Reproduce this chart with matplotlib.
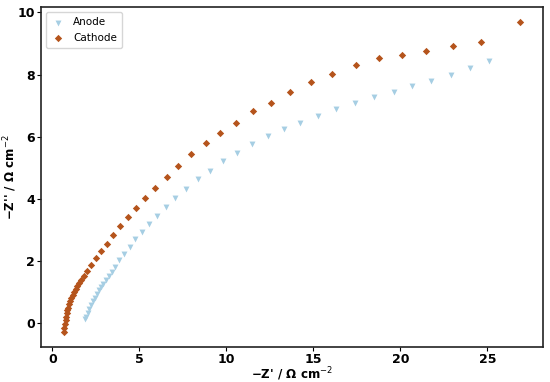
import matplotlib
matplotlib.use("Agg")
import matplotlib.pyplot as plt

anode_x = [1.88, 1.95, 2.02, 2.12, 2.22, 2.31, 2.43, 2.54, 2.68, 2.79, 2.92, 3.08, 3.25, 3.40,
           3.57, 3.82, 4.11, 4.43, 4.76, 5.14, 5.56, 6.02, 6.52, 7.07, 7.70, 8.35, 9.06, 9.82,
           10.61, 11.47, 12.37, 13.30, 14.24, 15.24, 16.30, 17.39, 18.48, 19.61, 20.70, 21.79,
           22.90, 24.00, 25.11]
anode_y = [0.12, 0.21, 0.34, 0.46, 0.58, 0.70, 0.80, 0.93, 1.05, 1.15, 1.27, 1.39, 1.52, 1.64,
           1.82, 2.03, 2.23, 2.46, 2.72, 2.93, 3.18, 3.45, 3.74, 4.03, 4.33, 4.63, 4.91, 5.21,
           5.49, 5.76, 6.03, 6.25, 6.45, 6.68, 6.90, 7.09, 7.28, 7.45, 7.62, 7.80,
           7.97, 8.20, 8.43]

cathode_x = [0.65, 0.69, 0.73, 0.75, 0.79, 0.82, 0.86, 0.92, 0.96, 1.01, 1.09, 1.16, 1.24, 1.34,
             1.43, 1.53, 1.65, 1.82, 2.01, 2.24, 2.51, 2.79, 3.14, 3.50, 3.90, 4.36, 4.82, 5.33,
             5.91, 6.59, 7.22, 7.97, 8.83, 9.63, 10.55, 11.53, 12.56, 13.65, 14.85, 16.06,
             17.43, 18.75, 20.07, 21.50, 23.05, 24.66, 26.90]
cathode_y = [-0.28, -0.15, -0.02, 0.10, 0.20, 0.31, 0.41, 0.50, 0.60, 0.70, 0.80, 0.90, 0.99, 1.09,
             1.19, 1.28, 1.40, 1.52, 1.66, 1.88, 2.08, 2.32, 2.55, 2.82, 3.11, 3.40, 3.69, 4.01,
             4.36, 4.71, 5.06, 5.45, 5.80, 6.12, 6.44, 6.83, 7.08, 7.44, 7.76, 8.01,
             8.30, 8.53, 8.62, 8.75, 8.91, 9.04, 9.68]

labels = ["Anode", "Cathode"]
x_ticks = [0, 5, 10, 15, 20, 25]
y_ticks = [0, 2, 4, 6, 8, 10]

fig = plt.figure(figsize=(5.5, 3.82), dpi=100)
ax = fig.add_axes([0.0745, 0.091, 0.913, 0.891])

ax.scatter(anode_x, anode_y, marker="v", s=18, color="#a6cee3", label=labels[0], linewidths=0)
ax.scatter(cathode_x, cathode_y, marker="D", s=14, color="#b5541c", label=labels[1], linewidths=0)

ax.set_xticks(x_ticks)
ax.set_yticks(y_ticks)
ax.tick_params(axis="both", length=3, pad=1.5)
for lab in ax.get_xticklabels() + ax.get_yticklabels():
    lab.set_fontweight("bold")
    lab.set_fontsize(9)

ax.set_xlabel("−Z' / Ω cm$^{-2}$", fontsize=8.6, fontweight="bold", labelpad=-0.5)
ax.set_ylabel("−Z'' / Ω cm$^{-2}$", fontsize=8.6, fontweight="bold", labelpad=-1)

for sp in ax.spines.values():
    sp.set_color("#222222")
    sp.set_linewidth(1.2)

ax.legend(loc="upper left", fontsize=7.5, frameon=True, handlelength=1.2,
          handletextpad=0.9, borderpad=0.5, labelspacing=0.5)

fig.savefig("out.png", dpi=100)
